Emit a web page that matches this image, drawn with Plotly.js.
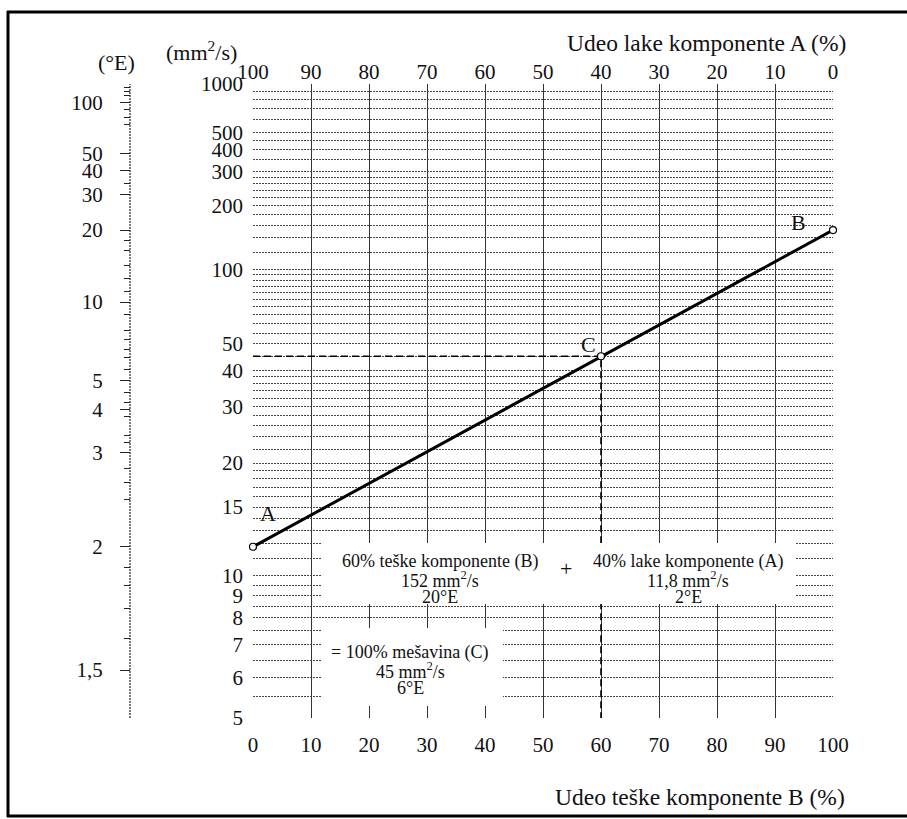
<!DOCTYPE html>
<html>
<head>
<meta charset="utf-8">
<script src="https://cdn.plot.ly/plotly-3.0.1.min.js"></script>
<style>
  html, body { margin: 0; padding: 0; background: #fff; }
  #chart { width: 907px; height: 819px; }
</style>
</head>
<body>
<div id="chart"></div>
<script>
// ---------------- data ----------------
// bottom axis: share of heavy component B (%)
const pctHeavyTicks = [0, 10, 20, 30, 40, 50, 60, 70, 80, 90, 100];
// top axis: share of light component A (%)
const pctLightTicks = [100, 90, 80, 70, 60, 50, 40, 30, 20, 10, 0];

// kinematic viscosity grid lines (mm2/s)
const viscGrid = [1000, 900, 800, 700, 600, 500, 450, 400, 350, 300, 280, 260, 240, 220, 200,
  180, 160, 140, 120, 100, 95, 90, 85, 80, 75, 70, 65, 60, 55, 50, 45, 40, 38, 36, 34, 32, 30,
  28, 26, 24, 22, 20, 19, 18, 17, 16, 15, 14, 13, 12, 11, 10, 9.5, 9, 8.5, 8, 7.5, 7, 6.5, 6, 5.5, 5];
// labelled viscosity values (mm2/s)
const viscLabeled = [1000, 500, 400, 300, 200, 100, 50, 40, 30, 20, 15, 10, 9, 8, 7, 6, 5];

// Engler degree scale: labels and the matching viscosity (mm2/s)
const englerLabels = ['100', '50', '40', '30', '20', '10', '5', '4', '3', '2', '1,5'];
const englerCst = [760, 380, 304, 228, 152, 73, 36.8, 29.3, 21.5, 11.8, 6.2];
const englerMinorCst = [942, 888, 837, 684, 611, 555, 259, 136, 121.5, 105, 92, 81, 65, 56, 52,
  47.5, 44.4, 40.2, 33.4, 31.1, 27.8, 24.3, 23, 19.3, 17.5, 15.7, 10.5, 9.5, 8.4, 7.2];

// blending line A -> B
const blendPct = [0, 100];
const blendVisc = [11.8, 152];
// mixture point C
const mixPct = 60;
const mixVisc = 45;
const minVisc = 5;
// marked points
const pointPct = [0, 60, 100];
const pointVisc = [11.8, 45, 152];
const pointNames = ['A', 'C', 'B'];

// texts
const textB = ['60% teške komponente (B)', '152 mm<sup>2</sup>/s', '20°E'];
const textA = ['40% lake komponente (A)', '11,8 mm<sup>2</sup>/s', '2°E'];
const textC = ['= 100% mešavina (C)', '45 mm<sup>2</sup>/s', '6°E'];

// ---------------- scale (viscosity blending chart: log log (v + 0.7)) ----------------
const T = v => Math.log10(Math.log10(v + 0.7));

const W = 907, H = 819, PL = 253, PR = 833, PT = 84, PB = 718;
const px = x => x / W;
const py = y => (PB - y) / (PB - PT);

const FONT = 'Liberation Serif, Times New Roman, serif';
const INK = '#111';

const gridT = viscGrid.map(T);
const gridText = viscGrid.map(v => viscLabeled.includes(v) ? String(v) : '');
const yRange = [T(minVisc) - 1e-6, T(1000) + 1e-6];

const traces = [
  { x: blendPct, y: blendVisc.map(T), mode: 'lines', line: { color: '#000', width: 3 },
    hoverinfo: 'skip', cliponaxis: false },
  { x: [0, mixPct, mixPct], y: [mixVisc, mixVisc, minVisc].map(T), mode: 'lines',
    line: { color: '#000', width: 1.6, dash: '7px,4px' }, hoverinfo: 'skip', cliponaxis: false },
  { x: pointPct, y: pointVisc.map(T), mode: 'markers', cliponaxis: false,
    marker: { size: 7, color: '#fff', line: { color: '#000', width: 1.2 } }, hoverinfo: 'skip' },
  // invisible carriers so the secondary axes (top % A, Engler scale) are drawn
  { x: pctLightTicks, y: pctLightTicks.map(() => T(minVisc)), xaxis: 'x2', yaxis: 'y', mode: 'markers',
    marker: { opacity: 0, size: 1 }, hoverinfo: 'skip' },
  { x: englerCst.map(() => 0), y: englerCst.map(T), xaxis: 'x', yaxis: 'y2', mode: 'markers',
    marker: { opacity: 0, size: 1 }, hoverinfo: 'skip' }
];

const annotations = [];
// point labels
const labelShift = { A: [15, 33], B: [-35, 8], C: [-13, 12] };
pointNames.forEach((n, i) => {
  annotations.push({ x: pointPct[i], y: T(pointVisc[i]), xref: 'x', yref: 'y', text: n,
    showarrow: false, xshift: labelShift[n][0], yshift: labelShift[n][1],
    font: { family: FONT, size: 22, color: INK } });
});
function block(lines, cx, y0, dy) {
  lines.forEach((t, i) => annotations.push({ x: px(cx), y: py(y0 + i * dy), xref: 'paper', yref: 'paper',
    text: t, showarrow: false, xanchor: 'center', yanchor: 'middle',
    font: { family: FONT, size: 18, color: INK } }));
}
block(textB, 440, 561, 18);
block(textA, 688, 561, 18);
block(textC, 410, 652, 18);
annotations.push({ x: px(566), y: py(583), xref: 'paper', yref: 'paper', text: '+', showarrow: false,
  font: { family: FONT, size: 22, color: INK } });
// titles
annotations.push({ x: px(847), y: py(797), xref: 'paper', yref: 'paper', xanchor: 'right', yanchor: 'middle',
  text: 'Udeo teške komponente B (%)', showarrow: false, font: { family: FONT, size: 23.5, color: INK } });
annotations.push({ x: px(848), y: py(43), xref: 'paper', yref: 'paper', xanchor: 'right', yanchor: 'middle',
  text: 'Udeo lake komponente A (%)', showarrow: false, font: { family: FONT, size: 23.5, color: INK } });
annotations.push({ x: px(116), y: py(62), xref: 'paper', yref: 'paper', xanchor: 'center', yanchor: 'middle',
  text: '(°E)', showarrow: false, font: { family: FONT, size: 22, color: INK } });
annotations.push({ x: px(201), y: py(51), xref: 'paper', yref: 'paper', xanchor: 'center', yanchor: 'middle',
  text: '(mm<sup>2</sup>/s)', showarrow: false, font: { family: FONT, size: 22, color: INK } });

const shapes = [
  // white label panels
  { type: 'rect', xref: 'paper', yref: 'paper', x0: px(321), x1: px(795), y0: py(604), y1: py(543),
    fillcolor: '#fff', line: { width: 0 }, layer: 'above' },
  { type: 'rect', xref: 'paper', yref: 'paper', x0: px(321), x1: px(503), y0: py(706), y1: py(628),
    fillcolor: '#fff', line: { width: 0 }, layer: 'above' },
  // Engler axis spine (dotted)
  { type: 'line', xref: 'paper', yref: 'paper', x0: px(130), x1: px(130), y0: 0, y1: 1,
    line: { color: '#222', width: 1.2, dash: '2px,1px' } },
  // outer frame
  { type: 'line', xref: 'paper', yref: 'paper', x0: px(8), x1: px(8), y0: py(11), y1: py(817),
    line: { color: '#000', width: 3 } },
  { type: 'line', xref: 'paper', yref: 'paper', x0: px(7), x1: px(907), y0: py(12), y1: py(12),
    line: { color: '#000', width: 3 } },
  { type: 'line', xref: 'paper', yref: 'paper', x0: px(7), x1: px(907), y0: py(816), y1: py(816),
    line: { color: '#000', width: 3 } }
];

const tickFont = { family: FONT, size: 21, color: INK };

const layout = {
  width: W, height: H,
  margin: { l: 0, r: 0, t: PT, b: H - PB, pad: 0, autoexpand: false },
  paper_bgcolor: '#fff', plot_bgcolor: '#fff',
  showlegend: false,
  xaxis: {
    domain: [px(PL), px(PR)], range: [0, 100], tickmode: 'array', tickvals: pctHeavyTicks,
    ticktext: pctHeavyTicks.map(String), showgrid: true, gridcolor: '#333', gridwidth: 1,
    zeroline: false, showline: false, ticks: '', tickfont: tickFont, ticklabelstandoff: 12,
    automargin: false, fixedrange: true
  },
  xaxis2: {
    overlaying: 'x', side: 'top', anchor: 'y', range: [100, 0], tickmode: 'array',
    tickvals: pctLightTicks, ticktext: pctLightTicks.map(String), showgrid: false, zeroline: false,
    showline: false, ticks: '', tickfont: tickFont, ticklabelstandoff: 0, automargin: false, fixedrange: true
  },
  yaxis: {
    domain: [0, 1], range: yRange, tickmode: 'array', tickvals: gridT, ticktext: gridText,
    showgrid: true, gridcolor: '#444', gridwidth: 1, griddash: '2px,1px', zeroline: false,
    showline: false, ticks: '', tickfont: tickFont, ticklabelstandoff: 9, automargin: false, fixedrange: true
  },
  yaxis2: {
    overlaying: 'y', anchor: 'free', position: px(130), side: 'left', range: yRange,
    tickmode: 'array', tickvals: englerCst.map(T), ticktext: englerLabels,
    ticks: 'outside', ticklen: 10, tickwidth: 1, tickcolor: '#222',
    minor: { tickmode: 'array', tickvals: englerMinorCst.map(T), ticks: 'outside', ticklen: 6,
      tickwidth: 1, tickcolor: '#222', showgrid: false },
    showgrid: false, zeroline: false, showline: false, tickfont: tickFont, ticklabelstandoff: 13,
    automargin: false, fixedrange: true
  },
  annotations: annotations,
  shapes: shapes
};

Plotly.newPlot('chart', traces, layout, { staticPlot: true, displayModeBar: false });
</script>
</body>
</html>
